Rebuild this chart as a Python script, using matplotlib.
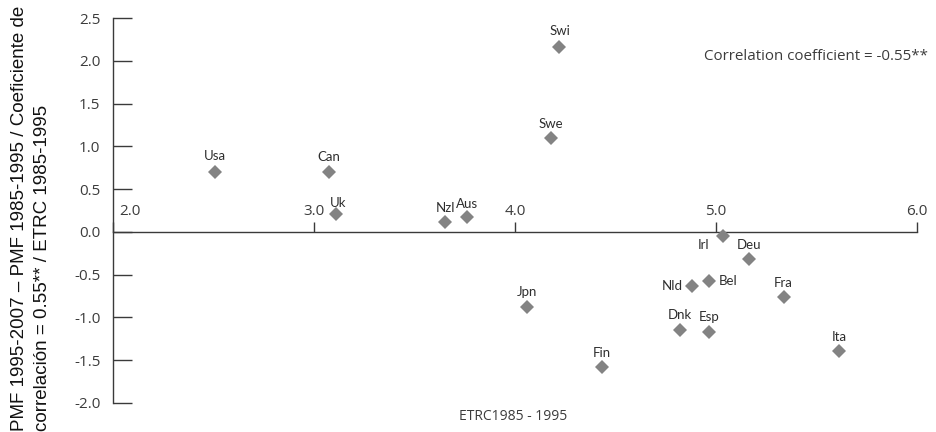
import matplotlib
matplotlib.use("Agg")
import matplotlib.pyplot as plt

countries = ["Usa", "Can", "Uk", "Nzl", "Aus", "Swi", "Swe", "Irl", "Deu", "Nld",
             "Bel", "Fra", "Jpn", "Dnk", "Esp", "Ita", "Fin"]
etrc = [2.507, 3.076, 3.108, 3.652, 3.76, 4.219, 4.18, 5.035, 5.163, 4.882,
        4.963, 5.336, 4.06, 4.822, 4.963, 5.613, 4.431]
pmf_diff = [0.705, 0.70, 0.21, 0.11, 0.17, 2.166, 1.10, -0.043, -0.32, -0.63,
            -0.57, -0.764, -0.874, -1.146, -1.166, -1.392, -1.575]
x_ticks = [2.0, 3.0, 4.0, 5.0, 6.0]
y_ticks = [-2.0, -1.5, -1.0, -0.5, 0.0, 0.5, 1.0, 1.5, 2.0, 2.5]

# label offsets in points (dx, dy, ha, va)
label_pos = {
    "Usa": (0, 8, "center", "baseline"), "Can": (0, 7.6, "center", "baseline"),
    "Uk": (1.5, 5.3, "center", "baseline"), "Nzl": (0, 7.5, "center", "baseline"),
    "Aus": (0.5, 6.8, "center", "baseline"), "Swi": (0.5, 8.4, "center", "baseline"),
    "Swe": (0, 6.7, "center", "baseline"), "Irl": (-9.8, -9.6, "right", "baseline"),
    "Deu": (0, 7.4, "center", "baseline"), "Nld": (-7, 0, "right", "center"),
    "Bel": (7, -0.5, "left", "center"), "Fra": (0, 7.6, "center", "baseline"),
    "Jpn": (0, 7.7, "center", "baseline"), "Dnk": (0, 7.7, "center", "baseline"),
    "Esp": (0.5, 7.9, "center", "baseline"), "Ita": (0, 7.4, "center", "baseline"),
    "Fin": (0, 7.2, "center", "baseline"),
}

LAB_FONT = ["Lato", "Open Sans", "DejaVu Sans"]
TXT_FONT = ["Open Sans", "DejaVu Sans"]
AXC = "#3a3a3a"
TXC = "#3c3c3c"

fig = plt.figure(figsize=(9.36, 4.32), dpi=100)
ax = fig.add_axes([113/936, 1-403/432, (917-113)/936, (403-18)/432])
ax.set_xlim(2.0, 6.0)
ax.set_ylim(-2.0, 2.5)

ax.plot(etrc, pmf_diff, linestyle="none", marker="D", markersize=7.5,
        color="#838383", markeredgewidth=0, zorder=3, clip_on=False)

for c, x, y in zip(countries, etrc, pmf_diff):
    dx, dy, ha, va = label_pos[c]
    ax.annotate(c, (x, y), xytext=(dx, dy), textcoords="offset points",
                ha=ha, va=va, fontsize=9.5, family=LAB_FONT, color="#2e2e2e")

for s in ["top", "right"]:
    ax.spines[s].set_visible(False)
ax.spines["bottom"].set_position(("data", 0))
ax.spines["left"].set_color(AXC)
ax.spines["bottom"].set_color(AXC)
ax.spines["left"].set_linewidth(1.0)
ax.spines["bottom"].set_linewidth(1.0)

ax.set_yticks(y_ticks)
ax.set_yticklabels([f"{v:.1f}" for v in y_ticks], family=TXT_FONT, fontsize=11,
                   color=TXC)
ax.tick_params(axis="y", direction="in", length=14, width=1.0, color=AXC, pad=9)

ax.set_xticks(x_ticks)
ax.set_xticklabels([])
ax.tick_params(axis="x", direction="in", length=7, width=1.0, color=AXC)
for v in x_ticks:
    dx = 12 if v == x_ticks[0] else 0
    ax.annotate(f"{v:.1f}", (v, 0), xytext=(dx, 15), textcoords="offset points",
                ha="center", va="center", fontsize=11, family=TXT_FONT,
                color=TXC)

ax.text(1.0137, 0.901, "Correlation coefficient = -0.55**", transform=ax.transAxes,
        ha="right", va="center", fontsize=10.9, family=TXT_FONT, color=TXC)

fig.text(513/936, 1-417/432, "ETRC1985 - 1995", ha="center", va="center",
         fontsize=10, family=TXT_FONT, color=TXC)

fig.text(51/936, 1-431/432,
         "PMF 1995-2007 \u2013 PMF 1985-1995 / Coeficiente de\ncorrelación = 0.55** / ETRC 1985-1995",
         rotation=90, ha="right", va="bottom", multialignment="left",
         fontsize=13.5, family=["Liberation Sans", "DejaVu Sans"], color="#111111",
         linespacing=1.45)

fig.savefig("out.png", dpi=100)
